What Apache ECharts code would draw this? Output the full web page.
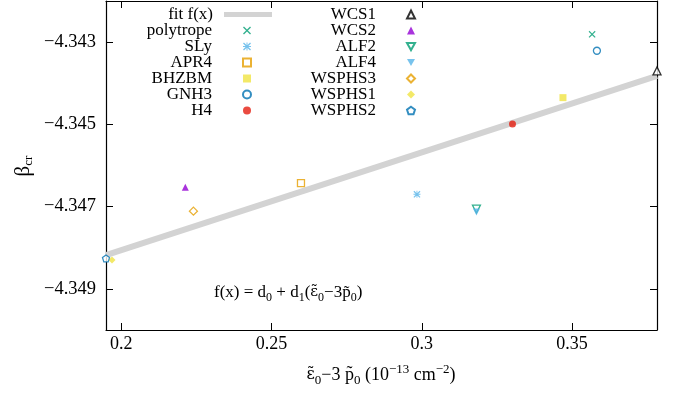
<!DOCTYPE html>
<html>
<head>
<meta charset="utf-8">
<script src="https://cdn.jsdelivr.net/npm/echarts@6/dist/echarts.min.js"></script>
<style>
  html, body { margin: 0; padding: 0; background: #fff; }
  #chart { width: 673px; height: 397px; }
</style>
</head>
<body>
<div id="chart"></div>
<script>
// Equations of state and their (eps0 - 3 p0, beta_cr) values
const eosNames = ['polytrope', 'SLy', 'APR4', 'BHZBM', 'GNH3', 'H4',
                  'WCS1', 'WCS2', 'ALF2', 'ALF4', 'WSPHS3', 'WSPHS1', 'WSPHS2'];
const eosX = [0.3567, 0.2984, 0.2598, 0.3470, 0.3583, 0.3302,
              0.3783, 0.2213, 0.3182, 0.3182, 0.2240, 0.1969, 0.1949];
const eosBeta = [-4.34281, -4.34670, -4.34643, -4.34435, -4.34321, -4.34499,
                 -4.34370, -4.34653, -4.34706, -4.34713, -4.34711, -4.34830, -4.34826];

// Linear fit f(x) = d0 + d1 x, endpoints over the plotted range
const fitX = [0.1949, 0.3783];
const fitBeta = [-4.34818, -4.34382];

// Axis ticks
const xTicks = [0.2, 0.25, 0.3, 0.35];
const yTicks = [-4.349, -4.347, -4.345, -4.343];
const yRange = [-4.350, -4.342];

// Key columns
const keyLeft = ['polytrope', 'SLy', 'APR4', 'BHZBM', 'GNH3', 'H4'];
const keyRight = ['WCS1', 'WCS2', 'ALF2', 'ALF4', 'WSPHS3', 'WSPHS1', 'WSPHS2'];

const FONT = 'Liberation Serif';
const GREEK = 'DejaVu Serif';
const FIT_COLOR = '#d3d3d3';

const CROSS = 'path://M0,1.2L1.2,0L5,3.8L8.8,0L10,1.2L6.2,5L10,8.8L8.8,10L5,6.2L1.2,10L0,8.8L3.8,5Z';
const STAR = 'path://M0,1.2L1.2,0L5,3.8L8.8,0L10,1.2L6.2,5L10,8.8L8.8,10L5,6.2L1.2,10L0,8.8L3.8,5Z M4.4,0H5.6V10H4.4Z M0,4.4H10V5.6H0Z';
const PENTA = 'path://M5,0L10,3.6L8.1,9.5L1.9,9.5L0,3.6Z';
const TRI_DOWN = 'path://M0,0L10,0L5,9Z';

// marker look per EOS: [symbol, color, open, size]
const markerStyle = {
  polytrope: [CROSS, '#009e73', false, 7],
  SLy:       [STAR, '#56b4e9', false, 7],
  APR4:      ['rect', '#e69f00', true, 7],
  BHZBM:     ['rect', '#f0e442', false, 7],
  GNH3:      ['circle', '#0072b2', true, 7],
  H4:        ['circle', '#e51e10', false, 7],
  WCS1:      ['triangle', '#000000', true, 8],
  WCS2:      ['triangle', '#9400d3', false, 7],
  ALF2:      [TRI_DOWN, '#009e73', true, 8],
  ALF4:      [TRI_DOWN, '#56b4e9', false, 7],
  WSPHS3:    ['diamond', '#e69f00', true, 8],
  WSPHS1:    ['diamond', '#f0e442', false, 7],
  WSPHS2:    [PENTA, '#0072b2', true, 7]
};

const series = [{
  name: 'fit f(x)',
  type: 'line',
  data: fitX.map((x, i) => [x, fitBeta[i]]),
  showSymbol: false,
  symbol: 'none',
  lineStyle: { color: FIT_COLOR, width: 6 },
  itemStyle: { color: FIT_COLOR },
  z: 1,
  silent: true
}];

eosNames.forEach((name, i) => {
  const [sym, color, open, size] = markerStyle[name];
  series.push({
    name: name,
    type: 'scatter',
    data: [[eosX[i], eosBeta[i]]],
    symbol: sym,
    symbolSize: size,
    clip: false,
    itemStyle: open
      ? { color: '#ffffff', borderColor: color, borderWidth: 1.3 }
      : { color: color, borderWidth: 0 },
    z: 3
  });
});

const ROW = 16;
const keyText = { fontFamily: FONT, fontSize: 17, color: '#000', lineHeight: ROW };
const keyBase = {
  orient: 'vertical', align: 'right', itemGap: -1, padding: 0, selectedMode: false
};

const frameAxis = {
  type: 'value',
  axisLine: { show: true, onZero: false, lineStyle: { color: '#000', width: 1.2 } },
  splitLine: { show: false }
};

const chart = echarts.init(document.getElementById('chart'));
chart.setOption({
  animation: false,
  backgroundColor: '#fff',
  grid: { left: 106, right: 16, top: 1, bottom: 67 },
  xAxis: [
    Object.assign({}, frameAxis, {
      position: 'bottom',
      min: Math.min(...eosX),
      max: Math.max(...eosX),
      axisTick: { show: true, inside: true, length: 7, customValues: xTicks, lineStyle: { color: '#000' } },
      axisLabel: {
        customValues: xTicks, margin: 5, color: '#000', fontFamily: FONT, fontSize: 18,
        formatter: v => String(+(+v).toFixed(2))
      }
    }),
    Object.assign({}, frameAxis, {
      position: 'top',
      min: Math.min(...eosX),
      max: Math.max(...eosX),
      axisTick: { show: true, inside: true, length: 7, customValues: xTicks, lineStyle: { color: '#000' } },
      axisLabel: { show: false }
    })
  ],
  yAxis: [
    Object.assign({}, frameAxis, {
      position: 'left',
      min: yRange[0],
      max: yRange[1],
      axisTick: { show: true, inside: true, length: 7, customValues: yTicks, lineStyle: { color: '#000' } },
      axisLabel: {
        customValues: yTicks, margin: 10, color: '#000', fontFamily: FONT, fontSize: 18.5,
        formatter: v => (+v).toFixed(3).replace('-', '\u2212')
      }
    }),
    Object.assign({}, frameAxis, {
      position: 'right',
      min: yRange[0],
      max: yRange[1],
      axisTick: { show: true, inside: true, length: 7, customValues: yTicks, lineStyle: { color: '#000' } },
      axisLabel: { show: false }
    })
  ],
  legend: [
    // fit line sample: a wide grey bar
    Object.assign({}, keyBase, {
      right: 401, top: 6,
      itemWidth: 48, itemHeight: 5, symbolKeepAspect: false,
      itemStyle: { color: FIT_COLOR },
      textStyle: Object.assign({}, keyText, { padding: [0, 6, 0, 0] }),
      data: [{ name: 'fit f(x)', icon: 'rect' }]
    }),
    Object.assign({}, keyBase, {
      right: 421, top: 6 + ROW,
      itemWidth: 8, itemHeight: 8,
      textStyle: Object.assign({}, keyText, { padding: [0, 26, 0, 0] }),
      data: keyLeft
    }),
    Object.assign({}, keyBase, {
      right: 257, top: 6,
      itemWidth: 8, itemHeight: 8,
      textStyle: Object.assign({}, keyText, { padding: [0, 26, 0, 0] }),
      data: keyRight
    })
  ],
  graphic: [
    {
      type: 'text', left: 214, top: 284, silent: true,
      style: {
        text: '{n|f(x) = d}{s|0}{n| + d}{s|1}{n|(}{g|\u03B5\u0303}{s|0}{n|\u22123p\u0303}{s|0}{n|)}',
        rich: {
          n: { fontFamily: FONT, fontSize: 17, lineHeight: 22, fill: '#000' },
          g: { fontFamily: GREEK, fontSize: 15, lineHeight: 22, fill: '#000' },
          s: { fontFamily: FONT, fontSize: 12, lineHeight: 12, verticalAlign: 'bottom', fill: '#000' }
        }
      }
    },
    {
      type: 'text', x: 381, y: 375, silent: true,
      style: {
        text: '{g|\u03B5\u0303}{s|0}{n|\u22123 p\u0303}{s|0}{n| (10}{p|\u221213}{n| cm}{p|\u22122}{n|)}',
        align: 'center', verticalAlign: 'middle',
        rich: {
          n: { fontFamily: FONT, fontSize: 18, lineHeight: 24, fill: '#000' },
          g: { fontFamily: GREEK, fontSize: 16, lineHeight: 24, fill: '#000' },
          s: { fontFamily: FONT, fontSize: 13, lineHeight: 13, verticalAlign: 'bottom', fill: '#000' },
          p: { fontFamily: FONT, fontSize: 13, lineHeight: 13, verticalAlign: 'top', fill: '#000' }
        }
      }
    },
    {
      type: 'text', x: 23, y: 166, rotation: Math.PI / 2, silent: true,
      style: {
        text: '{n|\u03B2}{s|cr}',
        align: 'center', verticalAlign: 'middle',
        rich: {
          n: { fontFamily: FONT, fontSize: 21, lineHeight: 24, fill: '#000' },
          s: { fontFamily: FONT, fontSize: 13, lineHeight: 13, verticalAlign: 'bottom', fill: '#000' }
        }
      }
    }
  ],
  series: series
});
</script>
</body>
</html>
